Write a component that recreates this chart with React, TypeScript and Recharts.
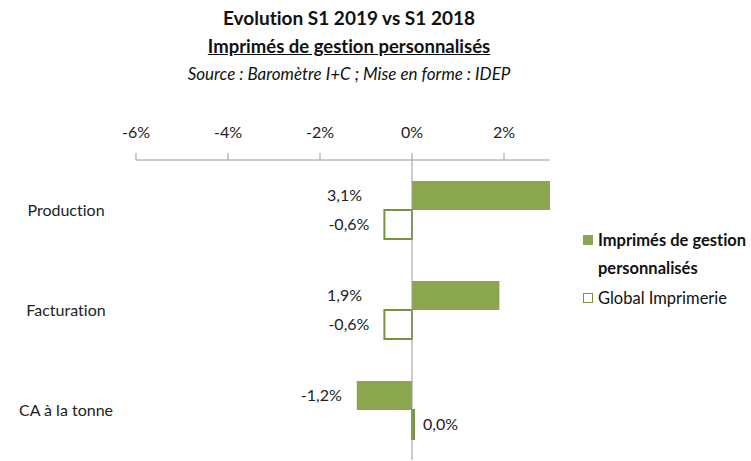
import React from 'react';
import { BarChart, Bar, XAxis, YAxis, ReferenceLine, LabelList } from 'recharts';

const categories = ['Production', 'Facturation', 'CA à la tonne'];
const imprimes = [3.1, 1.9, -1.2];
const globalImprimerie = [-0.6, -0.6, 0.0];
const xTicks = [-6, -4, -2, 0, 2];

const data = categories.map((name, i) => ({ name, imprimes: imprimes[i], global: globalImprimerie[i] }));

const FONT = "Lato, 'Open Sans', sans-serif";
const FILL = '#8aa64e';
const STROKE = '#77933c';

const fmt = (v: number) => `${v.toFixed(1).replace('.', ',')}%`;

const renderLabel = (props: any) => {
  const { x, y, width, height, value } = props;
  const left = Math.min(x, x + width);
  const right = Math.max(x, x + width);
  const cy = y + height / 2;
  let tx = left - 15;
  let anchor: 'start' | 'end' = 'end';
  if (value > 0) tx = left - 50;
  if (value === 0) { tx = right + 9; anchor = 'start'; }
  return (
    <text x={tx} y={cy} dy="0.35em" textAnchor={anchor} fontSize={16} fill="#222" fontFamily={FONT}>
      {fmt(value)}
    </text>
  );
};

const CategoryTick = (props: any) => {
  const { y, payload } = props;
  return (
    <text x={66} y={y} dy="0.35em" textAnchor="middle" fontSize={16} fill="#222" fontFamily={FONT}>
      {payload.value}
    </text>
  );
};

const App: React.FC = () => {
  return (
    <div style={{ position: 'absolute', left: 0, top: 0, width: 751, height: 461, background: '#fff', fontFamily: FONT, fontVariantLigatures: 'none' }}>
      <div style={{ position: 'absolute', left: 0, width: 698, top: 4, textAlign: 'center', color: '#111' }}>
        <div style={{ fontSize: 19, fontWeight: 'bold', lineHeight: '28px' }}>Evolution S1 2019 vs S1 2018</div>
        <div style={{ fontSize: 18.5, fontWeight: 'bold', lineHeight: '28px', textDecoration: 'underline' }}>Imprimés de gestion personnalisés</div>
        <div style={{ fontSize: 17, fontStyle: 'italic', lineHeight: '28px' }}>Source : Baromètre I+C ; Mise en forme : IDEP</div>
      </div>
      <BarChart
        width={751}
        height={461}
        data={data}
        layout="vertical"
        margin={{ top: 120, right: 201, bottom: 1, left: 0 }}
        barGap={0}
        barSize={29}
      >
        <XAxis
          type="number"
          orientation="top"
          domain={[-6, 3]}
          ticks={xTicks}
          allowDataOverflow
          height={40}
          tickFormatter={(v: number) => `${v}%`}
          tick={{ fontSize: 16, fill: '#222', fontFamily: FONT }}
          stroke="#999"
          tickSize={7}
          tickMargin={15}
        />
        <YAxis
          type="category"
          dataKey="name"
          width={136}
          axisLine={false}
          tickLine={false}
          tick={<CategoryTick />}
        />
        <ReferenceLine x={0} stroke="#999" strokeWidth={1} />
        <Bar dataKey="imprimes" fill={FILL} isAnimationActive={false}>
          <LabelList dataKey="imprimes" content={renderLabel} />
        </Bar>
        <Bar dataKey="global" fill="#fff" stroke={STROKE} strokeWidth={2} minPointSize={2} isAnimationActive={false}>
          <LabelList dataKey="global" content={renderLabel} />
        </Bar>
      </BarChart>
      <div style={{ position: 'absolute', left: 583, top: 226, color: '#111', whiteSpace: 'nowrap' }}>
        <div style={{ display: 'flex', alignItems: 'flex-start' }}>
          <div style={{ width: 10, height: 10, background: FILL, marginTop: 9, marginRight: 5 }} />
          <div style={{ fontSize: 16.5, fontWeight: 'bold', lineHeight: '28px' }}>Imprimés de gestion<br />personnalisés</div>
        </div>
        <div style={{ display: 'flex', alignItems: 'center', marginTop: 4 }}>
          <div style={{ width: 8, height: 8, border: `1px solid ${STROKE}`, marginRight: 5 }} />
          <div style={{ fontSize: 16.5, lineHeight: '24px' }}>Global Imprimerie</div>
        </div>
      </div>
    </div>
  );
};

export default App;
